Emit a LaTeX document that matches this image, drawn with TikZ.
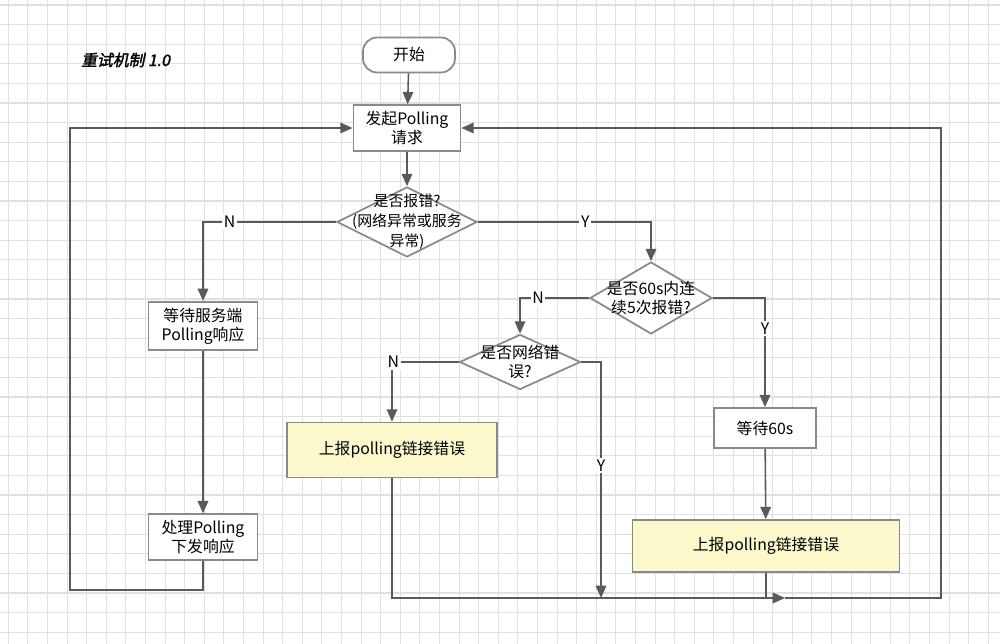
\documentclass[tikz,border=0pt]{standalone}
\usepackage{fontspec}
\setmainfont{Noto Sans CJK SC}
\newfontfamily\titlefont{Noto Sans CJK SC}[FakeSlant=0.2,FakeBold=2]
\usepackage{tikz}
\usetikzlibrary{arrows.meta}
\usetikzlibrary{calc}
\usetikzlibrary{positioning}
\usetikzlibrary{shapes.geometric}
\definecolor{gridc}{HTML}{E0E0E0}
\definecolor{linec}{HTML}{5A5A5A}
\definecolor{boxc}{HTML}{8A8A8A}
\definecolor{repc}{HTML}{FBF8CC}
\tikzset{
  box/.style={draw=boxc,line width=1pt,fill=white,align=center,font=\fontsize{9}{11}\selectfont},
  report/.style={box,fill=repc,minimum width=4.2cm,minimum height=1.1cm},
  decision/.style={draw=boxc,line width=1pt,fill=white,diamond,inner sep=0pt,font=\fontsize{9}{11}\selectfont},
  flow/.style={draw=linec,line width=0.9pt,-{Triangle[length=7pt,width=6pt]}},
  plain/.style={draw=linec,line width=0.9pt},
  tag/.style={fill=white,inner sep=1pt,font=\fontsize{9}{11}\selectfont}
}
\begin{document}
\begin{tikzpicture}[x=0.02cm,y=-0.02cm]
  \useasboundingbox (0,0) rectangle (1000,644);
  \fill[white] (0,0) rectangle (1000,644);
  \foreach \i in {0,...,51} {
    \draw[gridc,line width=0.6pt] ({8.3+19.6*\i},0) -- ({8.3+19.6*\i},644);
  }
  \foreach \j in {0,...,33} {
    \draw[gridc,line width=0.6pt] (0,{5+19.6*\j}) -- (1000,{5+19.6*\j});
  }
  \node[anchor=west,font=\fontsize{9}{11}\titlefont] (title) at (75,60) {重试机制 1.0};
  % main column
  \node[box,rounded corners=8pt,minimum width=1.84cm,minimum height=0.7cm] (start) at (409,55) {开始};
  \node[box,minimum width=2.14cm,minimum height=0.8cm] (poll) at (407,128) {发起Polling\\请求};
  \node[decision,minimum width=2.8cm,minimum height=1.4cm,label=center:{\fontsize{8.5}{10.5}\selectfont\shortstack{是否报错?\\(网络异常或服务\\异常)}}] (err) at (407,222) {};
  % left branch
  \node[box,minimum width=2.18cm,minimum height=0.96cm] (wait) at (203,326) {等待服务端\\Polling响应};
  \node[box,minimum width=2.18cm,minimum height=0.86cm] (handle) at (203,537) {处理Polling\\下发响应};
  % right branch
  \node[decision,minimum width=2.44cm,minimum height=1.44cm,label=center:{\fontsize{9}{11}\selectfont\shortstack{是否60s内连\\续5次报错?}}] (five) at (651,298) {};
  \node[decision,minimum width=2.42cm,minimum height=1.1cm,label=center:{\fontsize{9}{11}\selectfont\shortstack{是否网络错\\误?}}] (net) at (520,362) {};
  \node[report] (rep1) at (392,450) {上报polling链接错误};
  \node[box,minimum width=2.04cm,minimum height=0.8cm] (wait60) at (765,428) {等待60s};
  \node[report,minimum width=5.34cm,minimum height=1.04cm] (rep2) at (766,546) {上报polling链接错误};
  \coordinate (bottom) at (785,598);
  \coordinate (right) at (941,598);
  \coordinate (left) at (70,590);
  \coordinate (yend) at (601,598);
  % connectors
  \draw[flow] (start) -- (poll);
  \draw[flow] (poll) -- (err);
  \draw[flow] (err.west) -| node[tag,pos=0.4] {N} (wait.north);
  \draw[flow] (wait) -- (handle);
  \draw[flow] (handle.south) |- (left) |- (poll.west);
  \draw[flow] (err.east) -| node[tag,pos=0.31] {Y} (five.north);
  \draw[flow] (five.west) -| node[tag,pos=0.37] {N} (net.north);
  \draw[flow] (five.east) -| node[tag,pos=0.64] {Y} (wait60.north);
  \draw[flow] (net.west) -| node[tag,pos=0.49] {N} (rep1.north);
  \draw[flow] (net.east) -| node[tag,pos=0.72] {Y} (yend);
  \draw[flow] (wait60) -- (rep2);
  \draw[flow] (rep1.south) |- (bottom);
  \draw[plain] (rep2.south) -- (rep2.south |- bottom);
  \draw[flow] (bottom) -- (right) |- (poll.east);
\end{tikzpicture}
\end{document}
